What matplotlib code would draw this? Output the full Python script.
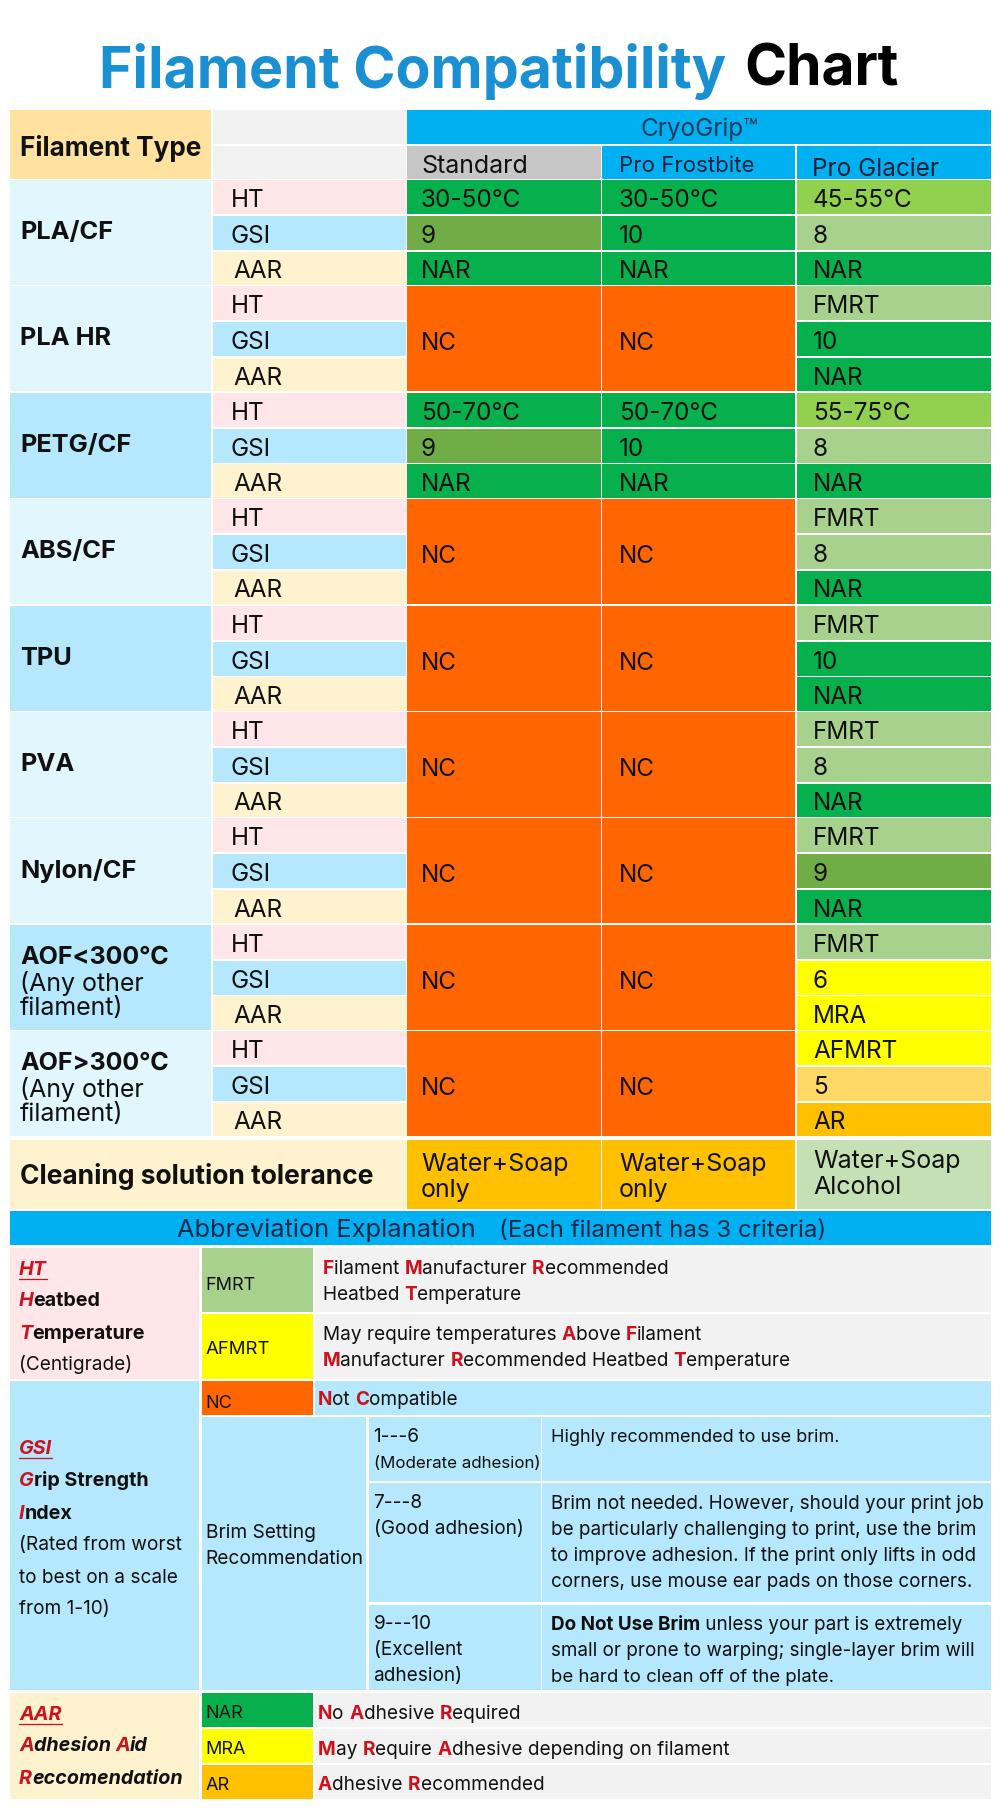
import re
import matplotlib
matplotlib.use("Agg")
import matplotlib.pyplot as plt
from matplotlib.patches import Rectangle

plt.rcParams['font.family'] = ['Inter', 'Noto Sans CJK SC', 'DejaVu Sans']

filaments = ["PLA/CF", "PLA HR", "PETG/CF", "ABS/CF", "TPU", "PVA", "Nylon/CF", "AOF<300℃", "AOF>300℃"]
criteria = ["HT", "GSI", "AAR"]
products = ["Standard", "Pro Frostbite", "Pro Glacier"]

standard = ["30-50℃", "9", "NAR", "NC", "NC", "NC", "50-70℃", "9", "NAR",
            "NC", "NC", "NC", "NC", "NC", "NC", "NC", "NC", "NC",
            "NC", "NC", "NC", "NC", "NC", "NC", "NC", "NC", "NC"]
frostbite = ["30-50℃", "10", "NAR", "NC", "NC", "NC", "50-70℃", "10", "NAR",
             "NC", "NC", "NC", "NC", "NC", "NC", "NC", "NC", "NC",
             "NC", "NC", "NC", "NC", "NC", "NC", "NC", "NC", "NC"]
glacier = ["45-55℃", "8", "NAR", "FMRT", "10", "NAR", "55-75℃", "8", "NAR",
           "FMRT", "8", "NAR", "FMRT", "10", "NAR", "FMRT", "8", "NAR",
           "FMRT", "9", "NAR", "FMRT", "6", "MRA", "AFMRT", "5", "AR"]
cleaning = [["Water+Soap", "only"], ["Water+Soap", "only"], ["Water+Soap", "Alcohol"]]

GREEN = "#06B04C"
LIGHT_GREEN = "#92D050"
DULL_GREEN = "#70AD47"
PALE_GREEN = "#A9D18E"
ORANGE = "#FF6600"
YELLOW = "#FFFF00"
GOLD = "#FFC000"
PEACH = "#FFD966"
BLUE = "#00B0F0"
PINK = "#FFE6E9"
SKY = "#B5E8FD"
PALE_SKY = "#E2F6FE"
CREAM = "#FFF2CE"
GREY = "#F2F2F2"
RED = "#D0101C"
INK = "#111111"

value_colors = {
    "30-50℃": GREEN, "50-70℃": GREEN, "45-55℃": LIGHT_GREEN, "55-75℃": LIGHT_GREEN,
    "10": GREEN, "9": DULL_GREEN, "8": PALE_GREEN, "6": YELLOW, "5": PEACH,
    "NAR": GREEN, "MRA": YELLOW, "AR": GOLD, "FMRT": PALE_GREEN, "AFMRT": YELLOW, "NC": ORANGE,
}
group_colors = [PALE_SKY, PALE_SKY, SKY, PALE_SKY, SKY, PALE_SKY, PALE_SKY, SKY, PALE_SKY]
criteria_colors = [PINK, SKY, CREAM]

fig = plt.figure(figsize=(10, 18.18), dpi=100)
ax = fig.add_axes([0, 0, 1, 1])
ax.set_xlim(0, 1000)
ax.set_ylim(1818, 0)
ax.axis("off")
renderer = fig.canvas.get_renderer()


def box(x0, x1, y0, y1, color):
    ax.add_patch(Rectangle((x0, y0), x1 - x0, y1 - y0, facecolor=color, edgecolor="none"))


def label(x, y, s, size=17.5, weight="normal", color=INK, ha="left", style="normal"):
    return ax.text(x, y, s, fontsize=size, fontweight=weight, color=color, ha=ha,
                   va="center_baseline", fontstyle=style)


def text_width(s, size, weight, style):
    # bar sign keeps trailing spaces in the measured width
    a = ax.text(0, 0, s + "|", fontsize=size, fontweight=weight, fontstyle=style)
    b = ax.text(0, 0, "|", fontsize=size, fontweight=weight, fontstyle=style)
    w = a.get_window_extent(renderer).width - b.get_window_extent(renderer).width
    a.remove()
    b.remove()
    return w


def marked(x, y, s, size=13.7, weight="normal", style="normal", color=INK, red_style=None):
    # letters in [] are drawn in red and bold, text in {} in bold
    for part in re.findall(r"\[[^\]]*\]|\{[^}]*\}|[^\[{]+", s):
        st = style
        if part[0] == "[":
            part, c, w = part[1:-1], RED, "bold"
            st = red_style or style
        elif part[0] == "{":
            part, c, w = part[1:-1], color, "bold"
        else:
            c, w = color, weight
        label(x, y, part, size, w, c, style=st)
        x += text_width(part, size, w, st)


# title
label(99, 65, "Filament Compatibility", 41.2, "bold", "#1A8FD1")
label(744, 65, "Chart", 41, "bold", "#000000")

# header
box(10, 211, 110, 179, "#FFE29F")
box(212.5, 406, 110, 144, GREY)
box(212.5, 406, 146, 179, GREY)
box(406.7, 991, 110, 144, BLUE)
box(406.7, 600.5, 146, 179, "#C6C6C6")
box(601.5, 795, 146, 179, BLUE)
box(796.5, 991, 146, 179, BLUE)
label(20, 146, "Filament Type", 18.8, "bold")
label(699, 127, "CryoGrip™", 17.5, ha="center", color="#1F3A5F")
label(421, 164, products[0], 18)
label(619, 164, products[1], 16, color="#10203A")
label(812, 167, products[2], 17.5, color="#10203A")

# main table
col_edges = [(406.7, 600.5), (601.5, 795), (796.5, 991)]
col_text = [421, 619, 813]
row_spans = [(0, 34), (36, 70), (71.5, 105)]
columns = [standard, frostbite, glacier]
for g, name in enumerate(filaments):
    top = 180 + g * 106.4
    box(10, 211, top, top + 105, group_colors[g])
    if "300" in name:
        label(20, top + 30, name, 18, "bold")
        label(20, top + 56, "(Any other", 18)
        label(20, top + 81, "filament)", 18)
    else:
        label(20, top + 50, name, 18.3, "bold")
    for r, crit in enumerate(criteria):
        y0, y1 = row_spans[r]
        box(212.5, 406, top + y0, top + y1, criteria_colors[r])
        label(231 if r < 2 else 233, top + (y0 + y1) / 2 + 1, crit)
    for c, vals in enumerate(columns):
        x0, x1 = col_edges[c]
        group = vals[g * 3:g * 3 + 3]
        if group == ["NC", "NC", "NC"]:
            box(x0, x1, top, top + 105, value_colors["NC"])
            label(col_text[c], top + 55, "NC")
        else:
            for r, v in enumerate(group):
                y0, y1 = row_spans[r]
                box(x0, x1, top + y0, top + y1, value_colors[v])
                label(col_text[c], top + (y0 + y1) / 2 + 1, v)

# cleaning row
box(10, 406, 1140, 1209, CREAM)
label(20, 1174, "Cleaning solution tolerance", 19, "bold")
clean_colors = [GOLD, GOLD, "#C5E0B4"]
clean_y = [(1162, 1188), (1162, 1188), (1159, 1185)]
for c, lines in enumerate(cleaning):
    x0, x1 = col_edges[c]
    box(x0, x1, 1140, 1209, clean_colors[c])
    label(col_text[c], clean_y[c][0], lines[0], 18)
    label(col_text[c], clean_y[c][1], lines[1], 18)

# abbreviation band
box(10, 991, 1211, 1245, BLUE)
label(177, 1228, "Abbreviation Explanation", 18.3, color="#12284A")
label(499, 1228, "(Each filament has 3 criteria)", 17.4, color="#12284A")


def heading(x, y, s):
    t = label(x, y, s, 14.2, "bold", RED, style="italic")
    bb = t.get_window_extent(renderer).transformed(ax.transData.inverted())
    ax.plot([bb.x0, bb.x1], [y + 11, y + 11], color=RED, lw=0.9)


# HT block
box(10, 198.7, 1248, 1379, PINK)
heading(19, 1268, "HT")
marked(19, 1299, "[H]{eatbed}", 14.2, red_style="italic")
marked(19, 1332, "[T]{emperature}", 14.2, red_style="italic")
label(19, 1363, "(Centigrade)", 13.7)
box(202, 312.7, 1248, 1312, PALE_GREEN)
box(202, 312.7, 1314, 1379, YELLOW)
box(315, 991, 1248, 1312, GREY)
box(315, 991, 1314, 1379, GREY)
label(205.7, 1284, "FMRT", 13)
label(205.7, 1348, "AFMRT", 13.4)
marked(322.7, 1267, "[F]ilament [M]anufacturer [R]ecommended")
marked(322.7, 1293, "Heatbed [T]emperature")
marked(322.7, 1333, "May require temperatures [A]bove [F]ilament")
marked(322.7, 1359, "[M]anufacturer [R]ecommended Heatbed [T]emperature")

# GSI block
box(10, 198.7, 1381, 1690, SKY)
heading(19, 1447, "GSI")
marked(19, 1479, "[G]{rip Strength}", 14.2, red_style="italic")
marked(19, 1512, "[I]{ndex}", 14.2, red_style="italic")
label(19, 1543, "(Rated from worst", 13.8)
label(19, 1576, "to best on a scale", 13.7)
label(19, 1607, "from 1-10)", 13.7)
box(202, 312.7, 1381, 1415, ORANGE)
box(315, 991, 1381, 1415, SKY)
label(205.7, 1401, "NC", 13)
marked(318, 1398, "[N]ot [C]ompatible")
box(202, 366, 1417, 1690, SKY)
label(205.7, 1531, "Brim Setting", 13.8)
label(205.7, 1557, "Recommendation", 13.8)
brim_rows = [(1417, 1481), (1483, 1602), (1605, 1690)]
for y0, y1 in brim_rows:
    box(369, 540.5, y0, y1, SKY)
    box(542.4, 991, y0, y1, SKY)
label(373.5, 1435, "1---6", 13.7)
label(373.5, 1462, "(Moderate adhesion)", 12.2)
label(373.5, 1501, "7---8", 13.7)
label(373.5, 1527, "(Good adhesion)", 13.7)
label(373.5, 1622, "9---10", 13.7)
label(373.5, 1648, "(Excellent", 13.7)
label(373.5, 1674, "adhesion)", 13.7)
label(550.7, 1436, "Highly recommended to use brim.", 13)
label(550.7, 1502, "Brim not needed. However, should your print job", 13.55)
label(550.7, 1528, "be particularly challenging to print, use the brim", 13.55)
label(550.7, 1554, "to improve adhesion. If the print only lifts in odd", 13.55)
label(550.7, 1580, "corners, use mouse ear pads on those corners.", 13.55)
marked(550.7, 1623, "{Do Not Use Brim} unless your part is extremely", 13.55)
label(550.7, 1649, "small or prone to warping; single-layer brim will", 13.55)
label(550.7, 1675, "be hard to clean off of the plate.", 13.4)

# AAR block
box(10, 198.7, 1693, 1799, CREAM)
heading(19, 1713, "AAR")
marked(19, 1744, "[A]{dhesion }[A]{id}", 14.2, style="italic")
marked(19, 1777, "[R]{eccomendation}", 14.2, style="italic")
aar_rows = [(1693, 1727, GREEN, "NAR", "[N]o [A]dhesive [R]equired", 1712),
            (1729, 1763, YELLOW, "MRA", "[M]ay [R]equire [A]dhesive depending on filament", 1748),
            (1765, 1799, GOLD, "AR", "[A]dhesive [R]ecommended", 1783)]
for y0, y1, color, abbr, desc, yt in aar_rows:
    box(202, 312.7, y0, y1, color)
    box(315, 991, y0, y1, GREY)
    label(205.7, yt, abbr, 13)
    marked(318, yt, desc)

fig.savefig("out.png", dpi=100, facecolor="white")
